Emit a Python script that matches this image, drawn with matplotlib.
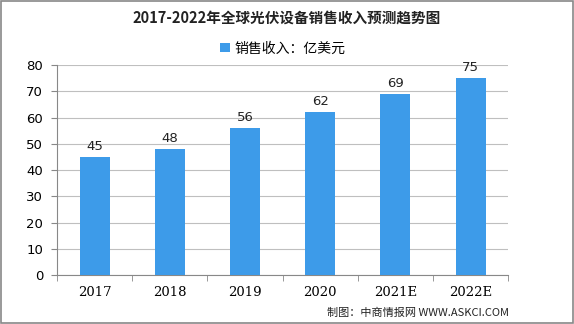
import matplotlib.pyplot as plt
from matplotlib.patches import Rectangle

plt.rcParams['font.family'] = ['Noto Sans CJK SC', 'DejaVu Sans']

# 数据
years = ['2017', '2018', '2019', '2020', '2021E', '2022E']
revenue = [45, 48, 56, 62, 69, 75]
yticks = [0, 10, 20, 30, 40, 50, 60, 70, 80]

bar_color = '#3d9be9'
grid_color = '#bfbfbf'

fig = plt.figure(figsize=(5.74, 3.24), dpi=100)
ax = fig.add_axes([0.0993, 0.151, 0.786, 0.648])

x = range(len(years))
bars = ax.bar(x, revenue, width=0.4, color=bar_color, label='销售收入：亿美元', zorder=3)
for xi, v in zip(x, revenue):
    ax.text(xi, v + 1.5, str(v), ha='center', va='bottom', fontsize=9.5,
            family=['DejaVu Sans'], color='#222222')

ax.set_ylim(0, 80)
ax.set_xlim(-0.5, len(years) - 0.5)
ax.set_yticks(yticks)
ax.set_yticklabels([str(t) for t in yticks], fontsize=9.5, family=['DejaVu Sans'])
ax.set_xticks(list(x))
ax.set_xticklabels(years, fontsize=9.5, family=['DejaVu Serif'])
ax.tick_params(axis='x', length=0, pad=8)
ax.tick_params(axis='y', length=4, color='#888888', pad=6)
# 类别分隔刻度
ax.set_xticks([i - 0.5 for i in range(len(years) + 1)], minor=True)
ax.tick_params(axis='x', which='minor', length=4, color='#888888')

ax.yaxis.grid(True, color=grid_color, linewidth=0.8, zorder=0)
for s in ['top', 'right']:
    ax.spines[s].set_visible(False)
ax.spines['left'].set_color('#888888')
ax.spines['bottom'].set_color('#888888')

fig.text(0.5, 0.945, '2017-2022年全球光伏设备销售收入预测趋势图', ha='center', va='center',
         fontsize=10.5, fontweight='bold', color='#222222')
ax.legend(loc='center', bbox_to_anchor=(0.5, 1.08), frameon=False, fontsize=10,
          handlelength=0.7, handleheight=0.7, handletextpad=0.3, borderaxespad=0)

fig.text(0.887, 0.035, '制图：中商情报网 WWW.ASKCI.COM', ha='right', va='center',
         fontsize=8, color='#222222')

fig.patches.append(Rectangle((0.002, 0.003), 0.996, 0.994, transform=fig.transFigure,
                             fill=False, edgecolor='#888888', linewidth=1.2))

fig.savefig('out.png', dpi=100)
